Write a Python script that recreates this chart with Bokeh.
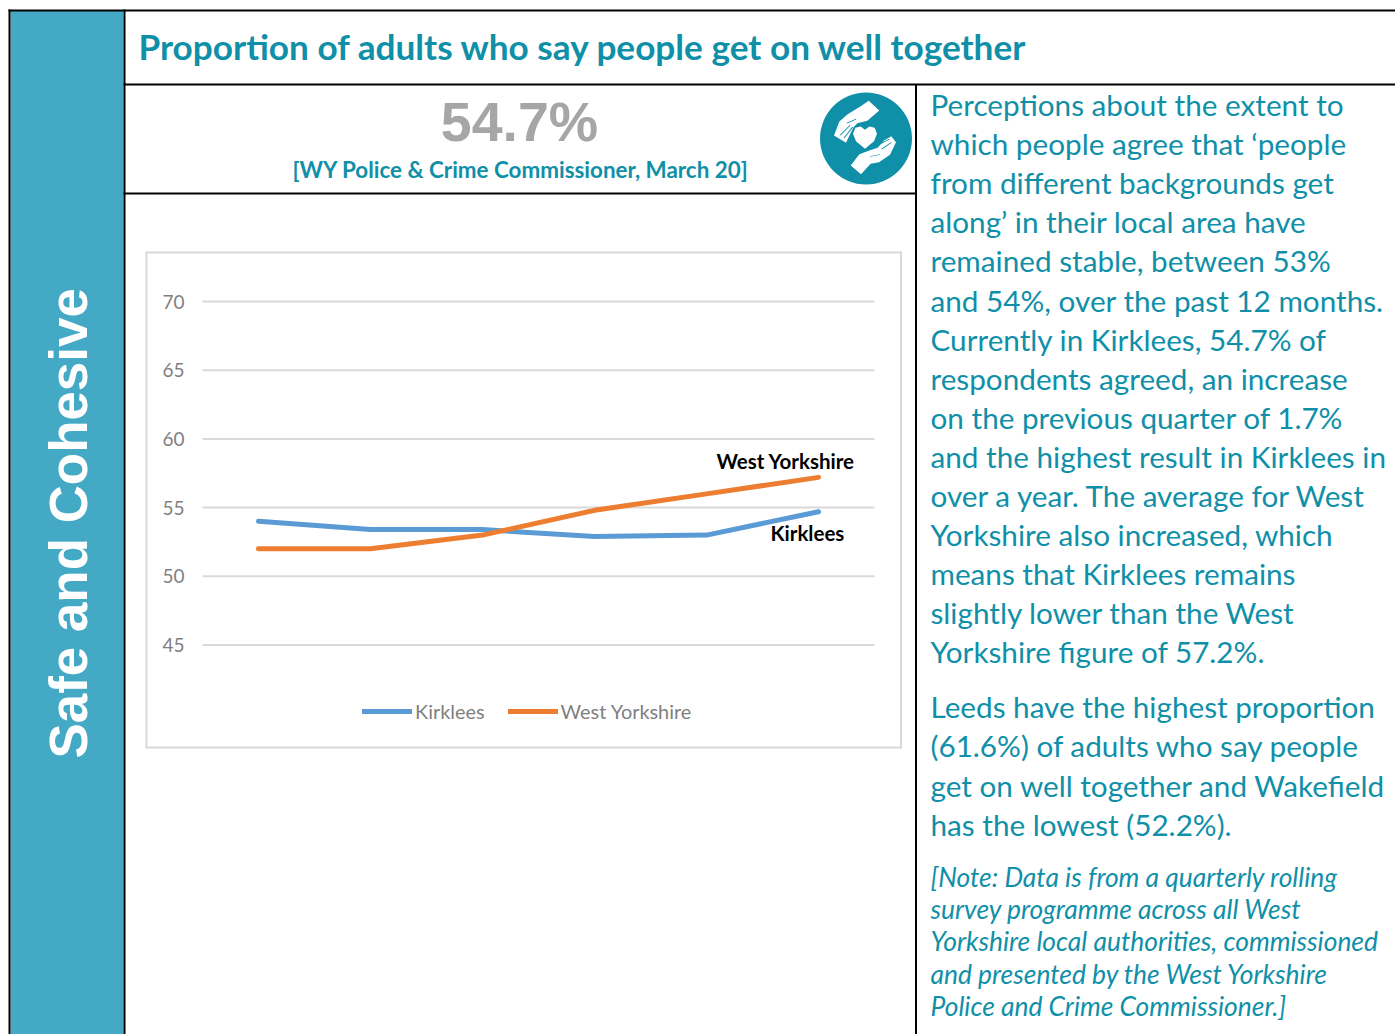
from bokeh.plotting import figure
from bokeh.models import (Range1d, Label, BoxAnnotation, PolyAnnotation, FixedTicker, LinearAxis,
                          Legend, LegendItem)
from bokeh.embed import file_html
from bokeh.resources import INLINE

quarters = [0, 1, 2, 3, 4, 5]
kirklees = [54.0, 53.4, 53.4, 52.9, 53.0, 54.7]
west_yorkshire = [52.0, 52.0, 53.0, 54.8, 56.0, 57.2]
y_ticks = [45, 50, 55, 60, 65, 70]

title = "Proportion of adults who say people get on well together"
headline = "54.7%"
source = "[WY Police & Crime Commissioner, March 20]"
side_label = "Safe and Cohesive"
para1 = ["Perceptions about the extent to", "which people agree that ‘people", "from different backgrounds get",
         "along’ in their local area have", "remained stable, between 53%", "and 54%, over the past 12 months.",
         "Currently in Kirklees, 54.7% of", "respondents agreed, an increase", "on the previous quarter of 1.7%",
         "and the highest result in Kirklees in", "over a year.  The average for West", "Yorkshire also increased, which",
         "means that Kirklees remains", "slightly lower than the West", "Yorkshire figure of 57.2%."]
para2 = ["Leeds have the highest proportion", "(61.6%) of adults who say people",
         "get on well together and Wakefield", "has the lowest (52.2%)."]
note = ["[Note: Data is from a quarterly rolling", "survey programme across all West",
        "Yorkshire local authorities, commissioned", "and presented by the West Yorkshire",
        "Police and Crime Commissioner.]"]

TEAL = "#0f8fa8"
PAGE_W, PAGE_H = 1395, 1034
X0, DX = 258.0, 112.0     # pixel of the first quarter, pixels per quarter
Y70, PX5 = 301.0, 68.7    # pixel of the 70 line, pixels per 5 points
GRID_L, GRID_R = 202, 874
PPU = PX5 / 5

p = figure(width=PAGE_W, height=PAGE_H, output_backend="svg", toolbar_location=None,
           x_range=Range1d(0, PAGE_W), y_range=Range1d(PAGE_H, 0),
           min_border=0, min_border_left=0, min_border_right=0, min_border_top=0, min_border_bottom=0,
           outline_line_color=None, x_axis_type=None, y_axis_type=None)
p.grid.visible = False
p.extra_x_ranges["chart"] = Range1d((0 - X0) / DX, (PAGE_W - X0) / DX)
p.extra_y_ranges["chart"] = Range1d(70 - (PAGE_H - Y70) / PPU, 70 + Y70 / PPU)

def box(l, t, r, b, color, **kw):
    p.add_layout(BoxAnnotation(left=l, right=r, top=t, bottom=b,
                               left_units="canvas", right_units="canvas", top_units="canvas", bottom_units="canvas",
                               fill_color=color, fill_alpha=1, line_color=None, level="underlay", **kw))

def text(x, y, s, size, color=TEAL, font="Lato", style="normal", align="left", angle=0):
    p.add_layout(Label(x=x, y=y, x_units="canvas", y_units="canvas", text=s, text_font=font,
                       text_font_size=f"{size}px", text_color=color, text_font_style=style, text_align=align,
                       text_baseline="alphabetic", angle=angle))

def poly(points, color):
    p.add_layout(PolyAnnotation(xs=[809.5 + a / 3 for a, _ in points], ys=[85 + b / 3 for _, b in points],
                                xs_units="canvas", ys_units="canvas", fill_color=color, fill_alpha=1,
                                line_color=None))

BLACK = "#000000"
box(10, 10, 123, 1034, "#43a9c4")
box(8, 9, 10, 1034, BLACK)
box(8, 9, 1395, 11, BLACK)
box(123, 9, 125, 1034, BLACK)
box(123, 83, 1395, 85, BLACK)
box(123, 192, 915, 194, BLACK)
box(914.5, 84, 916.5, 1034, BLACK)
# chart frame
box(145, 251, 901.5, 253, "#d9d9d9")
box(145, 746, 901.5, 748, "#d9d9d9")
box(145, 251, 147, 748, "#d9d9d9")
box(899.5, 251, 901.5, 748, "#d9d9d9")

p.segment(x0=[GRID_L] * len(y_ticks), x1=[GRID_R] * len(y_ticks), y0=y_ticks, y1=y_ticks,
          y_range_name="chart", line_color="#d9d9d9", line_width=2)
axis = LinearAxis(y_range_name="chart", fixed_location=GRID_L, ticker=FixedTicker(ticks=y_ticks),
                  axis_line_color=None, major_tick_line_color=None, minor_tick_line_color=None,
                  major_label_standoff=12, major_label_text_font="Lato", major_label_text_font_size="19px",
                  major_label_text_color="#7f7f7f")
p.add_layout(axis, "left")

r1 = p.line(quarters, kirklees, x_range_name="chart", y_range_name="chart", line_color="#5b9bd5", line_width=5,
            line_cap="round", line_join="round")
r2 = p.line(quarters, west_yorkshire, x_range_name="chart", y_range_name="chart", line_color="#ed7d31", line_width=5,
            line_cap="round", line_join="round")
leg = Legend(items=[LegendItem(label="Kirklees", renderers=[r1]), LegendItem(label="West Yorkshire", renderers=[r2])],
             orientation="horizontal", location=(362, PAGE_H - 723), glyph_width=50, glyph_height=20,
             label_text_font="Lato", label_text_font_size="19.9px", label_text_color="#7f7f7f",
             label_standoff=3, spacing=23, margin=0, padding=0, background_fill_alpha=0,
             border_line_color=None)
p.add_layout(leg, "center")

text(68, 758, side_label, 52.9, color="#ffffff", font="Liberation Sans", style="bold", angle=1.5708)
text(138, 59 - 14, title, 35.2, style="bold")
text(519, 142 - 21, headline, 55.5, color="#a6a6a6", font="Liberation Sans", style="bold", align="center")
text(520, 178 - 9, source, 22.4, style="bold", align="center")
for i, s in enumerate(para1):
    text(930, 104 + i * 39.1, s, 29.7)
for i, s in enumerate(para2):
    text(930, 706 + i * 39.3, s, 29.7)
for i, s in enumerate(note):
    text(930, 876 + i * 32.4, s, 26.4, style="italic")
text(716, 460, "West Yorkshire", 20.5, color="#000000", style="bold")
text(770, 532, "Kirklees", 20.5, color="#000000", style="bold")

# icon
box(819.5, 92, 911.5, 184, TEAL, border_radius=46)
poly([(150, 64), (176, 46), (208, 75), (172, 106), (142, 113), (130, 126), (108, 172), (72, 150), (88, 108), (113, 86)], "#ffffff")
poly([(122, 240), (148, 206), (178, 195), (203, 187), (222, 165), (244, 152), (258, 170), (240, 208), (207, 230), (182, 235), (153, 266)], "#ffffff")
poly([(165, 133), (152, 123), (136, 127), (129, 145), (138, 167), (165, 190), (192, 167), (201, 145), (194, 127), (178, 123)], "#ffffff")
poly([(90, 148), (120, 118), (121, 120), (92, 150)], TEAL)
poly([(101, 156), (127, 124), (129, 126), (103, 158)], TEAL)
poly([(110, 112), (138, 100), (139, 102), (111, 114)], TEAL)
poly([(208, 175), (238, 160), (239, 162), (210, 177)], TEAL)
poly([(214, 190), (243, 170), (245, 172), (216, 192)], TEAL)
poly([(180, 212), (210, 206), (211, 208), (181, 214)], TEAL)

open("out.html", "w").write(file_html(p, INLINE))
